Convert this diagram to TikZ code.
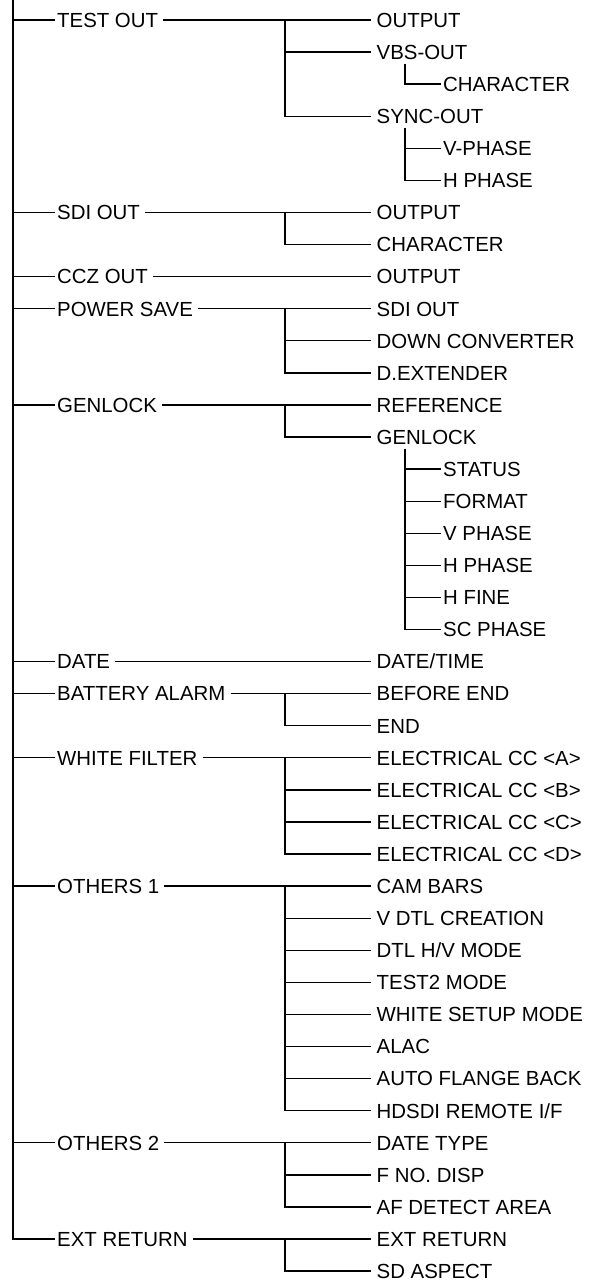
\documentclass[tikz,border=0pt]{standalone}
\usepackage{fontspec}
\setmainfont{Liberation Sans}
\usetikzlibrary{positioning}

\begin{document}
\begin{tikzpicture}[x=1pt,y=-32.08pt,
  menu/.style={anchor=west,inner xsep=2pt,inner ysep=0pt,text height=14.6pt,text depth=0pt,
    font=\fontsize{20.4}{24}\selectfont},
  item/.style={menu,inner xsep=5.5pt},
  trunk/.style={line width=2.2pt},
  branch/.style={line width=1.3pt}]
  \useasboundingbox (0,-0.623) rectangle (597,39.34);
  \coordinate (top) at (13,-0.623);
  \coordinate (bx) at (285,0);
  \coordinate (sx) at (405,0);
  % first level
  \node[menu] (tout)  at (55,0)  {TEST OUT};
  \node[menu] (sdi)   at (55,6)  {SDI OUT};
  \node[menu] (ccz)   at (55,8)  {CCZ OUT};
  \node[menu] (psave) at (55,9)  {POWER SAVE};
  \node[menu] (glock) at (55,12) {GENLOCK};
  \node[menu] (date)  at (55,20) {DATE};
  \node[menu] (batt)  at (55,21) {BATTERY ALARM};
  \node[menu] (wf)    at (55,23) {WHITE FILTER};
  \node[menu] (othA)  at (55,27) {OTHERS 1};
  \node[menu] (othB)  at (55,35) {OTHERS 2};
  \node[menu] (ext)   at (55,38) {EXT RETURN};
  % second level
  \node[item] (touta) at (371,0) {OUTPUT};
  \node[item] (toutb) at (371,1) {VBS-OUT};
  \node[item] (toutc) at (371,3) {SYNC-OUT};
  \node[item] (sdia) at (371,6) {OUTPUT};
  \node[item] (sdib) at (371,7) {CHARACTER};
  \node[item] (ccza) at (371,8) {OUTPUT};
  \node[item] (psavea) at (371,9)  {SDI OUT};
  \node[item] (psaveb) at (371,10) {DOWN CONVERTER};
  \node[item] (psavec) at (371,11) {D.EXTENDER};
  \node[item] (glocka) at (371,12) {REFERENCE};
  \node[item] (glockb) at (371,13) {GENLOCK};
  \node[item] (datea) at (371,20) {DATE/TIME};
  \node[item] (batta) at (371,21) {BEFORE END};
  \node[item] (battb) at (371,22) {END};
  \node[item] (wfa) at (371,23) {ELECTRICAL CC <A>};
  \node[item] (wfb) at (371,24) {ELECTRICAL CC <B>};
  \node[item] (wfc) at (371,25) {ELECTRICAL CC <C>};
  \node[item] (wfd) at (371,26) {ELECTRICAL CC <D>};
  \node[item] (othAa) at (371,27) {CAM BARS};
  \node[item] (othAb) at (371,28) {V DTL CREATION};
  \node[item] (othAc) at (371,29) {DTL H/V MODE};
  \node[item] (othAd) at (371,30) {TEST2 MODE};
  \node[item] (othAe) at (371,31) {WHITE SETUP MODE};
  \node[item] (othAf) at (371,32) {ALAC};
  \node[item] (othAg) at (371,33) {AUTO FLANGE BACK};
  \node[item] (othAh) at (371,34) {HDSDI REMOTE I/F};
  \node[item] (othBa) at (371,35) {DATE TYPE};
  \node[item] (othBb) at (371,36) {F NO. DISP};
  \node[item] (othBc) at (371,37) {AF DETECT AREA};
  \node[item] (exta) at (371,38) {EXT RETURN};
  \node[item] (extb) at (371,39) {SD ASPECT};
  % third level
  \node[menu] (vbsa)  at (441,2) {CHARACTER};
  \node[menu] (synca) at (441,4) {V-PHASE};
  \node[menu] (syncb) at (441,5) {H PHASE};
  \node[menu] (gla) at (441,14) {STATUS};
  \node[menu] (glb) at (441,15) {FORMAT};
  \node[menu] (glc) at (441,16) {V PHASE};
  \node[menu] (gld) at (441,17) {H PHASE};
  \node[menu] (gle) at (441,18) {H FINE};
  \node[menu] (glf) at (441,19) {SC PHASE};
  % trunk
  \draw[trunk] (top) |- (ext.west);
  \foreach \p in {tout,sdi,ccz,psave,glock,date,batt,wf,othA,othB}
    \draw[branch] (top |- \p.west) -- (\p.west);
  % first to second level
  \foreach \p in {tout,sdi,ccz,psave,glock,date,batt,wf,othA,othB,ext}
    \draw[branch] ([xshift=3pt]\p.east) -- (\p a.west);
  \foreach \p/\q in {tout/c,sdi/b,psave/c,glock/b,batt/b,wf/d,othA/h,othB/c,ext/b}
    \draw[branch] (bx |- \p a.west) |- (\p\q.west);
  \foreach \c in {toutb,psaveb,wfb,wfc,othAb,othAc,othAd,othAe,othAf,othAg,othBb}
    \draw[branch] (bx |- \c.west) -- (\c.west);
  % second to third level
  \draw[branch] ([yshift=-4pt]sx |- toutb.south) |- (vbsa.west);
  \draw[branch] ([yshift=-4pt]sx |- toutc.south) |- (syncb.west);
  \draw[branch] (sx |- synca.west) -- (synca.west);
  \draw[branch] ([yshift=-4pt]sx |- glockb.south) |- (glf.west);
  \foreach \c in {gla,glb,glc,gld,gle}
    \draw[branch] (sx |- \c.west) -- (\c.west);
\end{tikzpicture}
\end{document}
